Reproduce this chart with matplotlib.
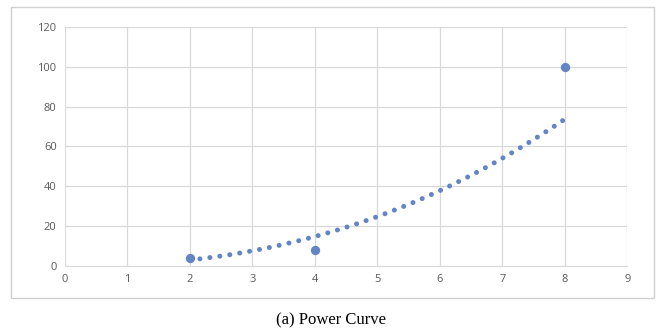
import numpy as np
import matplotlib.pyplot as plt
from matplotlib.patches import Rectangle

# data points
x_pts = [2, 4, 8]
y_pts = [4, 8, 100]
x_ticks = [0, 1, 2, 3, 4, 5, 6, 7, 8, 9]
y_ticks = [0, 20, 40, 60, 80, 100, 120]

blue = "#6385c6"
grid = "#d9d9d9"
label_col = "#595959"

fig = plt.figure(figsize=(6.63, 3.34), dpi=100)
fig.patches.append(Rectangle((0.016, 0.108), 0.97, 0.87, transform=fig.transFigure,
                             fill=False, edgecolor="#d0d0d0", linewidth=1))
ax = fig.add_axes([0.098, 0.204, 0.848, 0.715])

# power trendline, fitted in log space like Excel does
b, ln_a = np.polyfit(np.log(x_pts), np.log(y_pts), 1)
xt = np.linspace(min(x_pts), max(x_pts), 200)
yt = np.exp(ln_a) * xt ** b
ax.plot(xt, yt, color=blue, linewidth=3.6, linestyle=(0, (0.01, 2.0)),
        dash_capstyle="round", zorder=2)

ax.scatter(x_pts, y_pts, s=45, color=blue, zorder=3, linewidths=0)

ax.set_xlim(0, 9)
ax.set_ylim(0, 120)
ax.set_xticks(x_ticks)
ax.set_yticks(y_ticks)
ax.grid(True, color=grid, linewidth=0.9)
ax.set_axisbelow(True)
for s in ["top", "right", "left"]:
    ax.spines[s].set_visible(False)
ax.spines["bottom"].set_color(grid)
ax.tick_params(length=0, labelsize=8, colors=label_col, pad=6)
for lab in ax.get_xticklabels() + ax.get_yticklabels():
    lab.set_fontfamily("Open Sans")

fig.text(0.5, 0.042, "(a) Power Curve", ha="center", va="center",
         fontsize=12, family="Liberation Serif")

fig.savefig("out.png", dpi=100)
